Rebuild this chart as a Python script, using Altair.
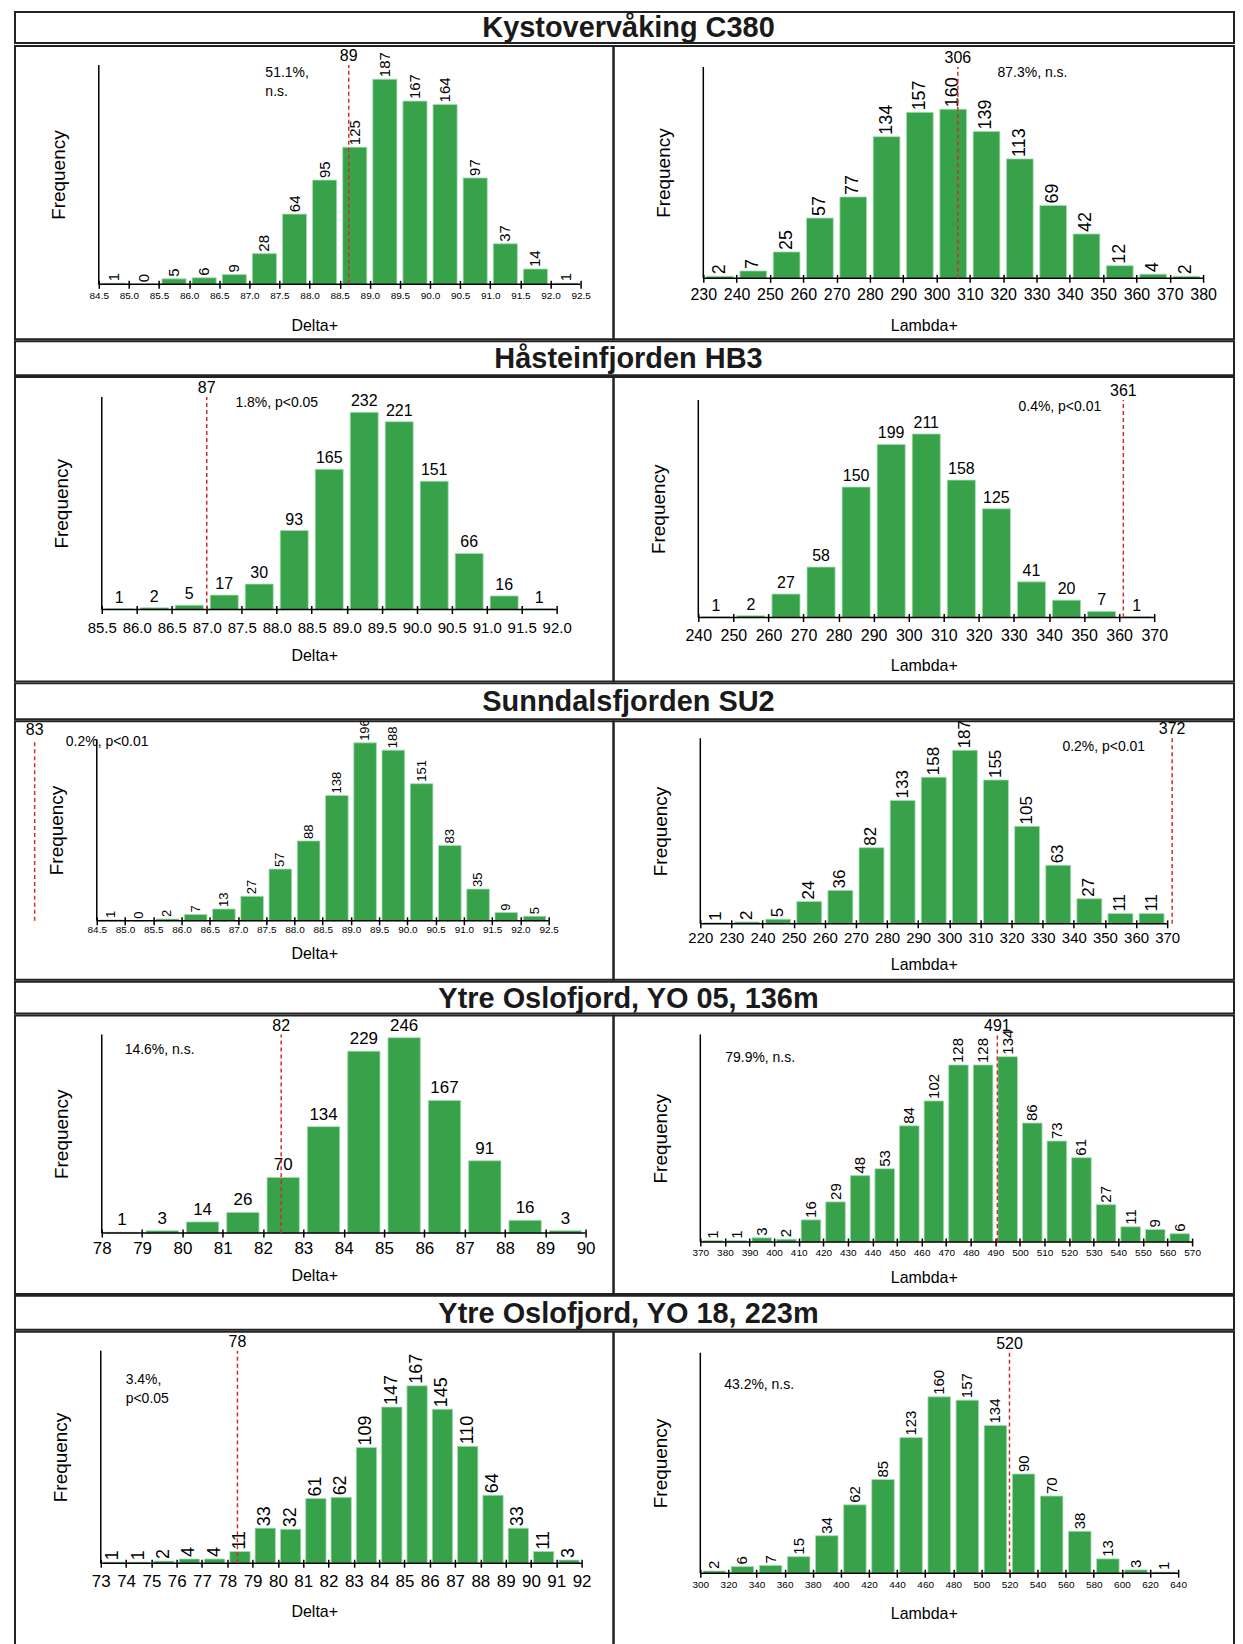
import altair as alt
import pandas as pd

NARROW = "Liberation Sans, Arial, sans-serif"
REG = "Liberation Sans, Arial, sans-serif"
GREEN = "#37a24a"
RED = "#d42a2a"

station_titles = [
    "Kystovervåking C380",
    "Håsteinfjorden HB3",
    "Sunndalsfjorden SU2",
    "Ytre Oslofjord, YO 05, 136m",
    "Ytre Oslofjord, YO 18, 223m",
]

# ---- Kystovervåking C380 ----
c380_delta_edges = [84.5, 85.0, 85.5, 86.0, 86.5, 87.0, 87.5, 88.0, 88.5, 89.0, 89.5, 90.0, 90.5, 91.0, 91.5, 92.0, 92.5]
c380_delta_counts = [1, 0, 5, 6, 9, 28, 64, 95, 125, 187, 167, 164, 97, 37, 14, 1]
c380_delta_obs, c380_delta_obs_label = 88.65, "89"
c380_delta_note = "51.1%,\nn.s."
c380_delta_ymax = 200

c380_lambda_edges = [230, 240, 250, 260, 270, 280, 290, 300, 310, 320, 330, 340, 350, 360, 370, 380]
c380_lambda_counts = [2, 7, 25, 57, 77, 134, 157, 160, 139, 113, 69, 42, 12, 4, 2]
c380_lambda_obs, c380_lambda_obs_label = 306.4, "306"
c380_lambda_note = "87.3%, n.s."
c380_lambda_ymax = 200

# ---- Håsteinfjorden HB3 ----
hb3_delta_edges = [85.5, 86.0, 86.5, 87.0, 87.5, 88.0, 88.5, 89.0, 89.5, 90.0, 90.5, 91.0, 91.5, 92.0]
hb3_delta_counts = [1, 2, 5, 17, 30, 93, 165, 232, 221, 151, 66, 16, 1]
hb3_delta_obs, hb3_delta_obs_label = 87.0, "87"
hb3_delta_note = "1.8%, p<0.05"
hb3_delta_ymax = 250

hb3_lambda_edges = [240, 250, 260, 270, 280, 290, 300, 310, 320, 330, 340, 350, 360, 370]
hb3_lambda_counts = [1, 2, 27, 58, 150, 199, 211, 158, 125, 41, 20, 7, 1]
hb3_lambda_obs, hb3_lambda_obs_label = 361.2, "361"
hb3_lambda_note = "0.4%, p<0.01"
hb3_lambda_ymax = 250

# ---- Sunndalsfjorden SU2 ----
su2_delta_edges = [84.5, 85.0, 85.5, 86.0, 86.5, 87.0, 87.5, 88.0, 88.5, 89.0, 89.5, 90.0, 90.5, 91.0, 91.5, 92.0, 92.5]
su2_delta_counts = [1, 0, 2, 7, 13, 27, 57, 88, 138, 196, 188, 151, 83, 35, 9, 5]
su2_delta_obs, su2_delta_obs_label = 83.4, "83"
su2_delta_note = "0.2%, p<0.01"
su2_delta_ymax = 200

su2_lambda_edges = [220, 230, 240, 250, 260, 270, 280, 290, 300, 310, 320, 330, 340, 350, 360, 370]
su2_lambda_counts = [1, 2, 5, 24, 36, 82, 133, 158, 187, 155, 105, 63, 27, 11, 11]
su2_lambda_obs, su2_lambda_obs_label = 371.6, "372"
su2_lambda_note = "0.2%, p<0.01"
su2_lambda_ymax = 200

# ---- Ytre Oslofjord YO 05 ----
yo05_delta_edges = [78, 79, 80, 81, 82, 83, 84, 85, 86, 87, 88, 89, 90]
yo05_delta_counts = [1, 3, 14, 26, 70, 134, 229, 246, 167, 91, 16, 3]
yo05_delta_obs, yo05_delta_obs_label = 82.45, "82"
yo05_delta_note = "14.6%, n.s."
yo05_delta_ymax = 250

yo05_lambda_edges = [370, 380, 390, 400, 410, 420, 430, 440, 450, 460, 470, 480, 490, 500, 510, 520, 530, 540, 550, 560, 570]
yo05_lambda_counts = [1, 1, 3, 2, 16, 29, 48, 53, 84, 102, 128, 128, 134, 86, 73, 61, 27, 11, 9, 6]
yo05_lambda_obs, yo05_lambda_obs_label = 490.8, "491"
yo05_lambda_note = "79.9%, n.s."
yo05_lambda_ymax = 150

# ---- Ytre Oslofjord YO 18 ----
yo18_delta_edges = [73, 74, 75, 76, 77, 78, 79, 80, 81, 82, 83, 84, 85, 86, 87, 88, 89, 90, 91, 92]
yo18_delta_counts = [1, 1, 2, 4, 4, 11, 33, 32, 61, 62, 109, 147, 167, 145, 110, 64, 33, 11, 3]
yo18_delta_obs, yo18_delta_obs_label = 78.4, "78"
yo18_delta_note = "3.4%,\np<0.05"
yo18_delta_ymax = 200

yo18_lambda_edges = [300, 320, 340, 360, 380, 400, 420, 440, 460, 480, 500, 520, 540, 560, 580, 600, 620, 640]
yo18_lambda_counts = [2, 6, 7, 15, 34, 62, 85, 123, 160, 157, 134, 90, 70, 38, 13, 3, 1]
yo18_lambda_obs, yo18_lambda_obs_label = 520, "520"
yo18_lambda_note = "43.2%, n.s."
yo18_lambda_ymax = 200


def pdata(edges, counts, obs, obs_label, note, ymax, xtitle, fmt):
    return dict(edges=edges, counts=counts, obs=obs, obs_label=obs_label,
                note=note, ymax=ymax, xtitle=xtitle, fmt=fmt)


panels = [
    (pdata(c380_delta_edges, c380_delta_counts, c380_delta_obs, c380_delta_obs_label, c380_delta_note, c380_delta_ymax, "Delta+", ".1f"),
     pdata(c380_lambda_edges, c380_lambda_counts, c380_lambda_obs, c380_lambda_obs_label, c380_lambda_note, c380_lambda_ymax, "Lambda+", "d")),
    (pdata(hb3_delta_edges, hb3_delta_counts, hb3_delta_obs, hb3_delta_obs_label, hb3_delta_note, hb3_delta_ymax, "Delta+", ".1f"),
     pdata(hb3_lambda_edges, hb3_lambda_counts, hb3_lambda_obs, hb3_lambda_obs_label, hb3_lambda_note, hb3_lambda_ymax, "Lambda+", "d")),
    (pdata(su2_delta_edges, su2_delta_counts, su2_delta_obs, su2_delta_obs_label, su2_delta_note, su2_delta_ymax, "Delta+", ".1f"),
     pdata(su2_lambda_edges, su2_lambda_counts, su2_lambda_obs, su2_lambda_obs_label, su2_lambda_note, su2_lambda_ymax, "Lambda+", "d")),
    (pdata(yo05_delta_edges, yo05_delta_counts, yo05_delta_obs, yo05_delta_obs_label, yo05_delta_note, yo05_delta_ymax, "Delta+", "d"),
     pdata(yo05_lambda_edges, yo05_lambda_counts, yo05_lambda_obs, yo05_lambda_obs_label, yo05_lambda_note, yo05_lambda_ymax, "Lambda+", "d")),
    (pdata(yo18_delta_edges, yo18_delta_counts, yo18_delta_obs, yo18_delta_obs_label, yo18_delta_note, yo18_delta_ymax, "Delta+", "d"),
     pdata(yo18_lambda_edges, yo18_lambda_counts, yo18_lambda_obs, yo18_lambda_obs_label, yo18_lambda_note, yo18_lambda_ymax, "Lambda+", "d")),
]

# ---- layout / style (pixels) ----
W_LEFT, W_RIGHT = 600, 622
band_heights = [31, 34, 36, 32, 34]
row_heights = [294, 305, 259, 279, 330]


def lay(axL, axR, base, top, tick_fs, lp, dt, rot, blab_fs, blab_font, nx, ny, tick_font=NARROW):
    return dict(axL=axL, axR=axR, base=base, top=top, tick_fs=tick_fs, lp=lp, dt=dt,
                rot=rot, blab_fs=blab_fs, blab_font=blab_font, nx=nx, ny=ny, tick_font=tick_font)


layouts = [
    (lay(84, 567, 239, 19, 10, 2, 41, True, 15, NARROW, 251, 20),
     lay(90, 591, 233, 21, 16, 4, 47, True, 18, REG, 385, 20)),
    (lay(87, 543, 233, 20, 15, 7, 46, False, 16, NARROW, 221, 19),
     lay(85, 542, 241, 23, 16, 6, 48, False, 16, NARROW, 406, 23)),
    (lay(82, 535, 200, 18, 10, 0, 33, True, 13, NARROW, 51, 14),
     lay(87, 555, 203, 17, 15, 3, 41, True, 17, REG, 450, 19)),
    (lay(87, 572, 218, 19, 17, 4, 43, False, 17, NARROW, 110, 28),
     lay(87, 580, 227, 19, 10, 2, 36, True, 15, NARROW, 112, 36)),
    (lay(86, 568, 232, 19, 17, 6, 48, True, 18, REG, 111, 41),
     lay(87, 566, 242, 21, 10, 2, 40, True, 15, NARROW, 111, 46)),
]


def make_panel(d, L, W, H):
    edges, counts = d["edges"], d["counts"]
    xmin, xmax = edges[0], edges[-1]
    axL, axR, base, top = L["axL"], L["axR"], L["base"], L["top"]
    ux = (xmax - xmin) / (axR - axL)
    xdom = [xmin - axL * ux, xmax + (W - axR) * ux]
    ymax = d["ymax"]
    uy = ymax / (base - top)
    ydom = [-(H - base) * uy, ymax + top * uy]

    xs = alt.Scale(domain=xdom, nice=False, zero=False)
    ys = alt.Scale(domain=ydom, nice=False, zero=False)
    xaxis = alt.Axis(values=edges, format=d["fmt"], title=d["xtitle"], orient="bottom",
                     offset=-(H - base) - 4, domain=False, grid=False,
                     tickSize=8, tickWidth=1.5, tickColor="black",
                     labelFont=L["tick_font"], labelFontSize=L["tick_fs"], labelColor="black",
                     labelPadding=L["lp"], labelFlush=False, labelOverlap=False, labelAngle=0,
                     titleFont=REG, titleFontSize=16, titleFontWeight="normal", titleColor="black",
                     titleBaseline="middle", titleY=L["dt"] + 4)
    yaxis = alt.Axis(orient="left", offset=-axL, domain=False, ticks=False, labels=False, grid=False,
                     title="Frequency", titleFont=REG, titleFontSize=19, titleFontWeight="normal",
                     titleColor="black", titleAngle=270, titleAlign="center", titleBaseline="middle",
                     titleX=-40, titleY=(top + base) / 2)

    def xenc(f):
        return alt.X(f, type="quantitative", scale=xs, axis=xaxis)

    def yenc(f):
        return alt.Y(f, type="quantitative", scale=ys, axis=yaxis)

    bars = pd.DataFrame({"lo": edges[:-1], "hi": edges[1:], "n": counts})
    bars["mid"] = (bars["lo"] + bars["hi"]) / 2
    g = round((axR - axL) / len(counts) * 0.1, 1)

    bar = alt.Chart(bars).mark_bar(color=GREEN, stroke="#a9dcb6", strokeWidth=0.8,
                                   xOffset=g, x2Offset=-g, clip=True).encode(
        x=xenc("lo"), x2=alt.X2("hi"), y=yenc("n"), y2=alt.datum(0))

    if L["rot"]:
        lab_mark = alt.Chart(bars).mark_text(angle=270, align="left", baseline="middle", dx=2, clip=True,
                                             font=L["blab_font"], fontSize=L["blab_fs"], color="black")
    else:
        lab_mark = alt.Chart(bars).mark_text(align="center", baseline="bottom", dy=-3, clip=True,
                                             font=L["blab_font"], fontSize=L["blab_fs"], color="black")
    lab = lab_mark.encode(x=xenc("mid"), y=yenc("n"), text=alt.Text("n:Q", format="d"))

    ax_df = pd.DataFrame({"x0": [xmin], "x1": [xmax], "y0": [0], "y1": [ymax]})
    xline = alt.Chart(ax_df).mark_rule(color="black", strokeWidth=1.5, clip=True).encode(
        x=xenc("x0"), x2=alt.X2("x1"), y=yenc("y0"))
    yline = alt.Chart(ax_df).mark_rule(color="black", strokeWidth=1.5, clip=True).encode(
        x=xenc("x0"), y=yenc("y0"), y2=alt.Y2("y1"))

    obs_df = pd.DataFrame({"xo": [d["obs"]], "y0": [0], "y1": [ymax], "lab": [d["obs_label"]]})
    rline = alt.Chart(obs_df).mark_rule(color=RED, strokeDash=[4, 3], strokeWidth=1.5, clip=True).encode(
        x=xenc("xo"), y=yenc("y0"), y2=alt.Y2("y1"))
    rtext = alt.Chart(obs_df).mark_text(baseline="bottom", dy=-1, font=NARROW, fontSize=16,
                                        color="black", clip=True).encode(
        x=xenc("xo"), y=yenc("y1"), text="lab:N")

    note = alt.Chart(pd.DataFrame({"t": [d["note"]]})).mark_text(
        align="left", baseline="top", lineBreak="\n", font=NARROW, fontSize=14, lineHeight=19,
        color="black", clip=True).encode(x=alt.value(L["nx"]), y=alt.value(L["ny"]), text="t:N")

    return alt.layer(bar, lab, xline, yline, rline, rtext, note).properties(width=W, height=H)


def make_band(title, h):
    wtot = W_LEFT + W_RIGHT
    return alt.Chart(pd.DataFrame({"t": [title]})).mark_text(
        font=REG, fontSize=29, fontWeight="bold", align="center", baseline="middle", color="#1a1a1a"
    ).encode(text="t:N", x=alt.value(wtot / 2 + 4), y=alt.value(h / 2 + 1)).properties(width=wtot, height=h)


rows = []
for i in range(5):
    rows.append(make_band(station_titles[i], band_heights[i]))
    left = make_panel(panels[i][0], layouts[i][0], W_LEFT, row_heights[i])
    right = make_panel(panels[i][1], layouts[i][1], W_RIGHT, row_heights[i])
    rows.append(alt.hconcat(left, right, spacing=0, bounds="flush"))

chart = alt.vconcat(*rows, spacing=0).properties(
    padding={"left": 6, "top": 1, "right": 0, "bottom": 0}, background="white"
).configure_view(stroke="#222222", strokeWidth=2)

chart.save("out.html", embed_options={"renderer": "svg", "actions": False})
